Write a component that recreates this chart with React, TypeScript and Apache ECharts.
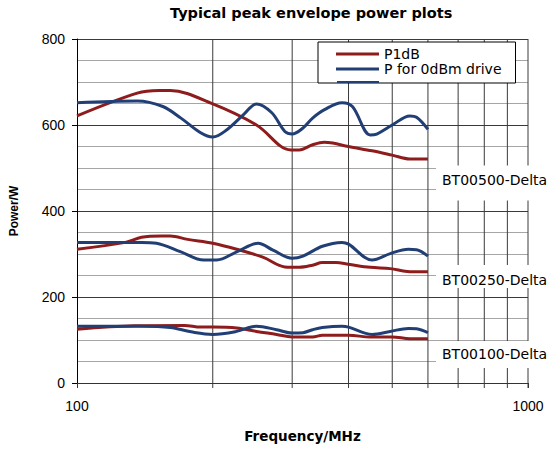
import React, { useEffect, useRef } from "react";
import * as echarts from "echarts";

// ---- data (frequency in MHz, power in W) ----
const gridFreqs = [200, 300, 400, 500, 600, 700, 800, 900, 1000];
const xTickLabels = ["100", "1000"];

const freqRed500 = [100, 136, 152, 161, 200, 250, 298, 311, 333, 353, 369, 400, 451, 500, 547, 600];
const valRed500 = [621, 674, 680, 680, 649, 600, 542, 542, 554, 560, 558, 550, 540, 530, 521, 521];

const freqBlue500 = [100, 136, 155, 170, 188, 200, 215, 234, 250, 270, 289, 300, 317, 333, 353, 387, 408, 447, 462, 500, 547, 566, 600];
const valBlue500 = [652, 656, 643, 616, 582, 572, 589, 624, 649, 629, 585, 579, 593, 616, 635, 652, 643, 577, 579, 600, 621, 618, 590];

const freqRed250 = [100, 128, 139, 154, 161, 176, 200, 226, 259, 289, 311, 333, 350, 375, 400, 447, 495, 547, 600];
const valRed250 = [311, 327, 339, 342, 342, 334, 325, 311, 292, 270, 269, 274, 280, 280, 276, 269, 266, 259, 259];

const freqBlue250 = [100, 139, 150, 170, 191, 204, 226, 252, 272, 300, 317, 350, 387, 400, 451, 495, 543, 566, 600];
const valBlue250 = [327, 327, 325, 305, 286, 286, 305, 325, 309, 290, 295, 318, 327, 323, 286, 301, 311, 310, 295];

const freqRed100 = [100, 134, 173, 188, 200, 226, 250, 277, 300, 333, 350, 400, 447, 500, 547, 600];
const valRed100 = [125, 133, 134, 130, 130, 128, 120, 113, 107, 107, 111, 111, 107, 107, 103, 103];

const freqBlue100 = [100, 139, 161, 179, 200, 226, 250, 277, 300, 317, 333, 350, 387, 400, 451, 495, 543, 566, 600];
const valBlue100 = [132, 132, 129, 119, 113, 120, 132, 124, 116, 117, 124, 129, 132, 130, 113, 120, 127, 126, 117];

const seriesNames = ["P1dB", "P for 0dBm drive"];
const deviceLabels = ["BT00500-Delta", "BT00250-Delta", "BT00100-Delta"];

const RED = "#8e1c1c";
const BLUE = "#213f74";

const pairs = (f: number[], v: number[]) => f.map((x, i) => [x, v[i]]);

export default function App() {
  const ref = useRef<HTMLDivElement>(null);
  useEffect(() => {
    if (!ref.current) return;
    const chart = echarts.init(ref.current, null, { renderer: "svg" });
    const lineSeries = (name: string, color: string, data: number[][]) => ({
      type: "line",
      name,
      data,
      smooth: 0.35,
      symbol: "none",
      z: 3,
      lineStyle: { color, width: 3 },
      itemStyle: { color },
    });
    const labelBox = (text: string, y: number, h: number, ty: number) => [
      { type: "rect", z: 20, shape: { x: 436, y, width: 112, height: h }, style: { fill: "#fff" } },
      {
        type: "text",
        z: 21,
        x: 442,
        y: ty,
        style: {
          text,
          fill: "#000",
          font: "14px 'DejaVu Sans'",
          verticalAlign: "middle",
          align: "left",
        },
      },
    ];
    chart.setOption({
      animation: false,
      title: {
        text: "Typical peak envelope power plots",
        left: 170,
        top: 5,
        padding: 0,
        textStyle: { fontFamily: "DejaVu Sans", fontWeight: "bold", fontSize: 14.5, color: "#000" },
      },
      grid: { left: 72, right: 20, top: 39, bottom: 67, containLabel: false },
      legend: {
        data: seriesNames,
        orient: "vertical",
        left: 318,
        top: 42,
        padding: [5, 14, 7, 18],
        itemGap: 1,
        icon: "rect",
        itemWidth: 43,
        itemHeight: 3,
        backgroundColor: "#fff",
        borderColor: "#000",
        borderWidth: 1,
        borderRadius: 0,
        selectedMode: false,
        textStyle: { fontFamily: "DejaVu Sans", fontSize: 14, color: "#000", lineHeight: 14 },
      },
      xAxis: {
        type: "log",
        logBase: 10,
        min: 100,
        max: 1000,
        name: "Frequency/MHz",
        nameLocation: "middle",
        nameGap: 46,
        nameTextStyle: { fontFamily: "DejaVu Sans", fontWeight: "bold", fontSize: 13.5, color: "#000" },
        axisLine: { show: true, lineStyle: { color: "#333", width: 1 } },
        axisTick: { show: true, length: 5, lineStyle: { color: "#333" } },
        axisLabel: {
          margin: 16,
          fontFamily: "Liberation Sans",
          fontSize: 14,
          color: "#000",
          formatter: (v: number) => (xTickLabels.includes(String(Math.round(v))) ? String(Math.round(v)) : ""),
        },
        splitLine: { show: false },
      },
      yAxis: {
        type: "value",
        min: 0,
        max: 800,
        interval: 200,
        name: "Power/W",
        nameLocation: "middle",
        nameGap: 57,
        nameRotate: 90,
        nameTextStyle: { fontFamily: "Liberation Sans", fontWeight: "bold", fontSize: 12, color: "#000" },
        axisLine: { show: true, lineStyle: { color: "#000", width: 1 } },
        axisTick: { show: true, length: 5, lineStyle: { color: "#000" } },
        axisLabel: { margin: 12, fontFamily: "Liberation Sans", fontSize: 14, color: "#000" },
        splitLine: { show: true, lineStyle: { color: "#3a3a3a", width: 1 } },
        minorTick: { show: false, splitNumber: 4 },
        minorSplitLine: { show: true, lineStyle: { color: "#a6a6a6", width: 1 } },
      },
      series: [
        {
          type: "custom",
          name: "grid",
          silent: true,
          z: 1,
          clip: false,
          data: gridFreqs.map((f) => [f, 0]),
          encode: { x: 0, y: 1 },
          renderItem: (params: any, api: any) => {
            const f = api.value(0);
            const top = api.coord([f, 800]);
            const bot = api.coord([f, 0]);
            return {
              type: "line",
              shape: { x1: top[0], y1: top[1], x2: bot[0], y2: bot[1] + 5 },
              style: { stroke: "#3a3a3a", lineWidth: 1 },
            };
          },
        },
        lineSeries(seriesNames[0], RED, pairs(freqRed500, valRed500)),
        lineSeries(seriesNames[1], BLUE, pairs(freqBlue500, valBlue500)),
        lineSeries(seriesNames[0], RED, pairs(freqRed250, valRed250)),
        lineSeries(seriesNames[1], BLUE, pairs(freqBlue250, valBlue250)),
        lineSeries(seriesNames[0], RED, pairs(freqRed100, valRed100)),
        lineSeries(seriesNames[1], BLUE, pairs(freqBlue100, valBlue100)),
      ],
      graphic: [
        ...labelBox(deviceLabels[0], 165.5, 35, 179.5),
        ...labelBox(deviceLabels[1], 265, 23, 279.5),
        ...labelBox(deviceLabels[2], 341, 27, 353.5),
        { type: "rect", z: 22, shape: { x: 337, y: 81, width: 42, height: 2 }, style: { fill: BLUE } },
      ],
    });
    return () => chart.dispose();
  }, []);
  return (
    <div
      ref={ref}
      style={{ position: "fixed", left: 0, top: 0, width: 548, height: 450, background: "#fff" }}
    />
  );
}
